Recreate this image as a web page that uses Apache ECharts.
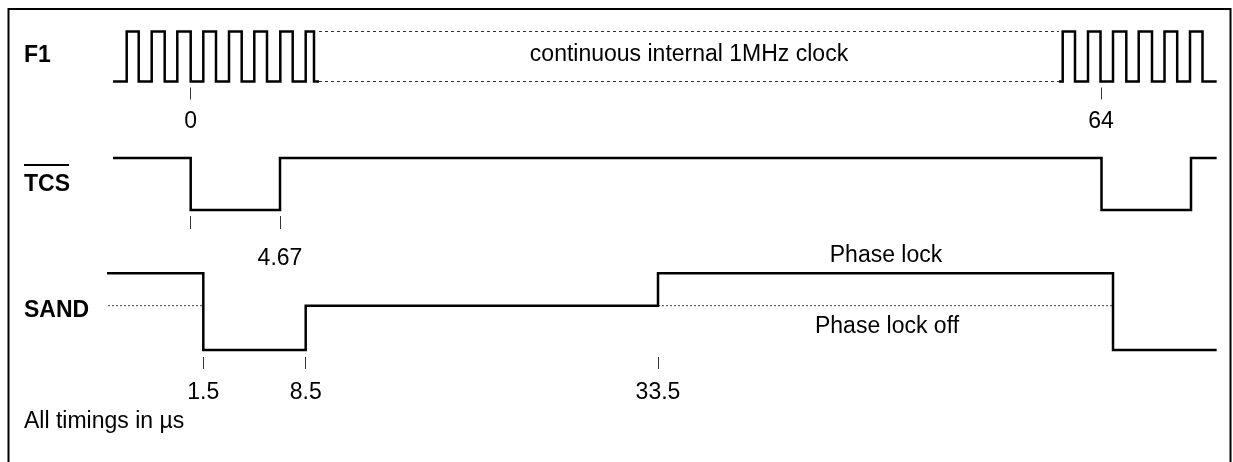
<!DOCTYPE html>
<html><head><meta charset="utf-8">
<script src="https://cdn.jsdelivr.net/npm/echarts@6/dist/echarts.min.js"></script>
<style>html,body{margin:0;padding:0;background:#fff}#c{width:1233px;height:462px}</style>
</head><body><div id="c"></div>
<script>
// ---- data (diagram x units along the schematic time line; levels 0 = low, 1 = high) ----
const signalNames = ['F1', 'TCS', 'SAND'];
const f1BurstA = [[113,0],[126.7,1],[138.7,0],[151.7,1],[164.7,0],[177.3,1],[190.7,0],[203.3,1],[216,0],[229,1],[241.7,0],[254.3,1],[267,0],[280.3,1],[292.7,0],[305.7,1],[314,0],[319,0]];
const f1BurstB = [[1059,0],[1062.7,1],[1075,0],[1088,1],[1100.5,0],[1113,1],[1126.3,0],[1138.7,1],[1152,0],[1164.5,1],[1177.2,0],[1190,1],[1202.5,0],[1216.7,0]];
const f1GapHigh = [[319,1],[1059,1]];
const f1GapLow = [[319,0],[1059,0]];
const tcsWave = [[113,1],[190.7,0],[280,1],[1101.5,0],[1191,1],[1216.7,1]];
const sandMid = 0.578;
const sandWave = [[107,1],[203.3,0],[305.7,sandMid],[658,1],[1113,0],[1216.7,0]];
const sandRefA = [[108,sandMid],[203.3,sandMid]];
const sandRefB = [[658,sandMid],[1113,sandMid]];
const f1TickPos = [190.7, 1101];
const f1TickLabels = ['0', '64'];
const tcsTickPos = [190.7, 280];
const tcsTickLabels = ['', '4.67'];
const sandTickPos = [203.3, 305.7, 658];
const sandTickLabels = ['1.5', '8.5', '33.5'];
const clockNote = 'continuous internal 1MHz clock';
const phaseNotes = ['Phase lock', 'Phase lock off'];
const footNote = 'All timings in \u00B5s';

// ---- chart ----
const FONT = '"Liberation Sans", Arial, sans-serif';
const FS = 23;
const chart = echarts.init(document.getElementById('c'), null, {renderer: 'canvas'});

function lookup(pos, labels) {
  return function (v) {
    for (let i = 0; i < pos.length; i++) if (Math.abs(pos[i] - v) < 0.01) return labels[i];
    return '';
  };
}
function xAx(gi, pos, labels, tickLen, margin, offset) {
  return {
    type: 'value', gridIndex: gi, min: 0, max: 1233, position: 'bottom', offset: offset,
    axisLine: {show: false, onZero: false}, splitLine: {show: false},
    axisTick: {show: true, customValues: pos, length: tickLen, lineStyle: {color: '#333', width: 1}},
    axisLabel: {show: true, customValues: pos, margin: margin, formatter: lookup(pos, labels),
      color: '#000', fontSize: FS, fontFamily: FONT, lineHeight: FS}
  };
}
function yAx(gi) {
  return {type: 'value', gridIndex: gi, min: 0, max: 1, show: false};
}
function wave(data, gi, width, dash, color) {
  return {
    type: 'line', xAxisIndex: gi, yAxisIndex: gi, data: data, step: dash ? false : 'end',
    symbol: 'none', clip: false, silent: true, animation: false,
    lineStyle: {color: color || '#000', width: width, type: dash || 'solid', cap: 'butt', join: 'miter'}
  };
}

const option = {
  backgroundColor: '#fff',
  animation: false,
  grid: [
    {left: 0, right: 0, top: 31.5, height: 50, outerBoundsMode: 'none'},
    {left: 0, right: 0, top: 158, height: 52, outerBoundsMode: 'none'},
    {left: 0, right: 0, top: 273.3, height: 76.7, outerBoundsMode: 'none'}
  ],
  xAxis: [
    xAx(0, f1TickPos, f1TickLabels, 12, 22.5, 6),
    xAx(1, tcsTickPos, tcsTickLabels, 13, 31, 6),
    xAx(2, sandTickPos, sandTickLabels, 12, 24, 7)
  ],
  yAxis: [yAx(0), yAx(1), yAx(2)],
  series: [
    wave(f1GapHigh, 0, 1, [3, 3], '#333'),
    wave(f1GapLow, 0, 1, [3, 3], '#333'),
    wave(f1BurstA, 0, 2.5),
    wave(f1BurstB, 0, 2.5),
    wave(tcsWave, 1, 2.5),
    wave(sandRefA, 2, 1, [2, 2], '#444'),
    wave(sandRefB, 2, 1, [2, 2], '#444'),
    wave(sandWave, 2, 2.5)
  ],
  graphic: [
    {type: 'rect', shape: {x: 8.5, y: 9, width: 1222, height: 600}, style: {fill: 'none', stroke: '#000', lineWidth: 2}, silent: true},
    {type: 'text', left: 24, top: 56 - FS / 2, style: {text: signalNames[0], font: 'bold ' + FS + 'px ' + FONT, fill: '#000'}},
    {type: 'text', left: 24, top: 185 - FS / 2, style: {text: signalNames[1], font: 'bold ' + FS + 'px ' + FONT, fill: '#000'}},
    {type: 'line', shape: {x1: 24, y1: 165, x2: 69, y2: 165}, style: {stroke: '#000', lineWidth: 2}},
    {type: 'text', left: 24, top: 311 - FS / 2, style: {text: signalNames[2], font: 'bold ' + FS + 'px ' + FONT, fill: '#000'}},
    {type: 'text', x: 689, y: 55, style: {text: clockNote, font: FS + 'px ' + FONT, fill: '#000', align: 'center', verticalAlign: 'middle'}},
    {type: 'text', x: 886, y: 256, style: {text: phaseNotes[0], font: FS + 'px ' + FONT, fill: '#000', align: 'center', verticalAlign: 'middle'}},
    {type: 'text', x: 887, y: 327, style: {text: phaseNotes[1], font: FS + 'px ' + FONT, fill: '#000', align: 'center', verticalAlign: 'middle'}},
    {type: 'text', x: 24, y: 422, style: {text: footNote, font: FS + 'px ' + FONT, fill: '#000', align: 'left', verticalAlign: 'middle'}}
  ]
};
chart.setOption(option);
</script>
</body></html>
